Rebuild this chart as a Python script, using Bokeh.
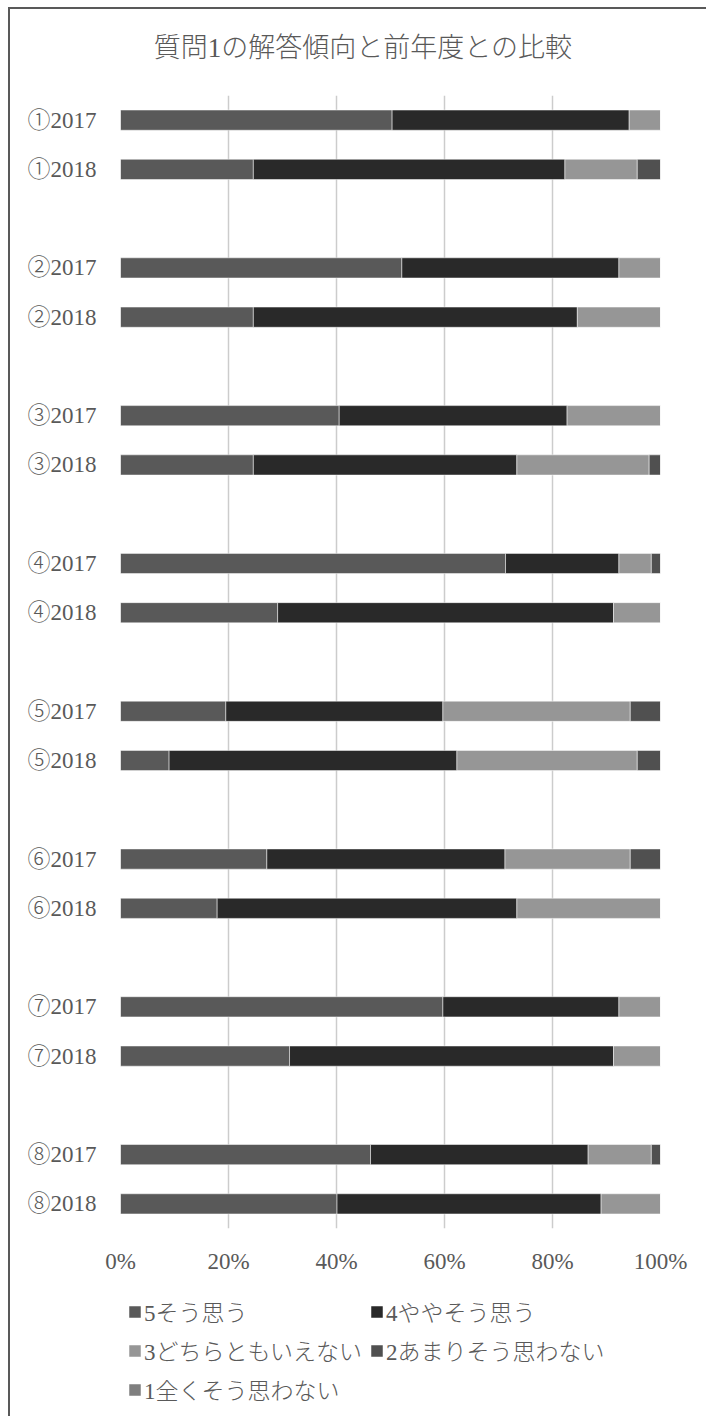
from bokeh.plotting import figure
from bokeh.models import (ColumnDataSource, FactorRange, FixedTicker, Label,
                          PrintfTickFormatter, Legend, LegendItem)
from bokeh.layouts import column
from bokeh.embed import file_html
from bokeh.resources import INLINE

# Survey question 1: answer distribution (%) per item, 2017 vs 2018
questions = ["①", "②", "③", "④", "⑤", "⑥", "⑦", "⑧"]
years = ["2017", "2018"]
levels = ["5そう思う", "4ややそう思う", "3どちらともいえない", "2あまりそう思わない", "1全くそう思わない"]
title = "質問1の解答傾向と前年度との比較"

# one value per row, order: ①2017, ①2018, ②2017, ②2018, ...
agree = [50.3, 24.6, 52.1, 24.6, 40.5, 24.6, 71.3, 29.1, 19.5, 9.0, 27.1, 17.9, 59.7, 31.3, 46.3, 40.1]
somewhat_agree = [43.9, 57.7, 40.2, 60.0, 42.2, 48.8, 21.0, 62.2, 40.2, 53.3, 44.1, 55.5, 32.6, 60.0, 40.3, 48.9]
neutral = [5.8, 13.4, 7.7, 15.4, 17.3, 24.5, 6.0, 8.7, 34.7, 33.4, 23.2, 26.6, 7.7, 8.7, 11.7, 11.0]
somewhat_disagree = [0.0, 4.3, 0.0, 0.0, 0.0, 2.1, 1.7, 0.0, 5.6, 4.3, 5.6, 0.0, 0.0, 0.0, 1.7, 0.0]
disagree = [0.0, 0.0, 0.0, 0.0, 0.0, 0.0, 0.0, 0.0, 0.0, 0.0, 0.0, 0.0, 0.0, 0.0, 0.0, 0.0]

x_ticks = [0, 20, 40, 60, 80, 100]
colors = ["#595959", "#292929", "#969696", "#505050", "#7f7f7f"]
TEXT = "#595959"
FONT = "Liberation Serif, Noto Sans CJK JP Light, Noto Sans CJK JP"
W = 696
FRAME = dict(min_border_left=110, min_border_right=46)

row_labels = [q + y for q in questions for y in years]

# category axis: each question pair followed by an empty slot
factors = []
for i, q in enumerate(questions):
    factors += [q + y for y in years]
    if i < len(questions) - 1:
        factors.append(" " * (i + 1))

keys = ["s5", "s4", "s3", "s2", "s1"]
source = ColumnDataSource(dict(label=row_labels, s5=agree, s4=somewhat_agree,
                               s3=neutral, s2=somewhat_disagree, s1=disagree))
bar_style = dict(height=0.41, color=colors, line_color="white", line_width=0.5)


def bare(fig):
    fig.outline_line_color = None
    fig.xgrid.grid_line_color = None
    fig.ygrid.grid_line_color = None
    return fig


# ---- title strip ----
tp = bare(figure(width=W, height=77, x_axis_type=None, y_axis_type=None,
                 x_range=(0, 1), y_range=(0, 1),
                 output_backend="svg", toolbar_location=None,
                 min_border_top=0, min_border_bottom=0, **FRAME))
tp.add_layout(Label(x=0.449, y=0.5, text=title, text_align="center", text_baseline="middle",
                    text_font=FONT, text_font_size="27px", text_color=TEXT))

# ---- main chart ----
p = figure(width=W, height=1201,
           y_range=FactorRange(factors=list(reversed(factors)), range_padding=0),
           x_range=(0, 100),
           output_backend="svg", toolbar_location=None,
           min_border_top=9, min_border_bottom=59, **FRAME)

p.hbar_stack(keys, y="label", source=source, **bar_style)

p.outline_line_color = None
p.ygrid.grid_line_color = None
p.xgrid.ticker = FixedTicker(ticks=x_ticks)
p.xgrid.grid_line_color = "#cccccc"
p.xgrid.grid_line_width = 1.5

p.xaxis.ticker = FixedTicker(ticks=x_ticks)
p.xaxis.formatter = PrintfTickFormatter(format="%d%%")
for ax in (p.xaxis, p.yaxis):
    ax.axis_line_color = None
    ax.major_tick_line_color = None
    ax.minor_tick_line_color = None
    ax.major_label_text_font = FONT
    ax.major_label_text_font_size = "23px"
    ax.major_label_text_color = TEXT
p.xaxis.major_label_standoff = 14
p.yaxis.major_label_standoff = 18

# ---- legend strip under the chart ----
# same stacked bars on a one-factor range that none of the rows belong to,
# so only their legend swatches are drawn
lp = bare(figure(width=W, height=129, x_axis_type=None, y_axis_type=None,
                 y_range=FactorRange(factors=["legend"]), x_range=(0, 100),
                 output_backend="svg", toolbar_location=None,
                 min_border_top=0, min_border_bottom=0, **FRAME))

swatches = lp.hbar_stack(keys, y="label", source=source, **bar_style)
legend = Legend(items=[LegendItem(label=lv, renderers=[r]) for lv, r in zip(levels, swatches)],
                orientation="horizontal", ncols=2, location="top_left",
                margin=7, padding=7, spacing=5, label_standoff=2,
                glyph_width=15, glyph_height=15, label_height=26, label_width=220,
                border_line_color=None, background_fill_alpha=0,
                label_text_font=FONT, label_text_font_size="23px",
                label_text_color=TEXT)
lp.add_layout(legend)

page = column(tp, p, lp, margin=(7, 0, 0, 8), spacing=0,
              styles={"border-left": "2px solid #595959", "border-top": "2px solid #595959"})

open("out.html", "w").write(file_html(page, INLINE))
